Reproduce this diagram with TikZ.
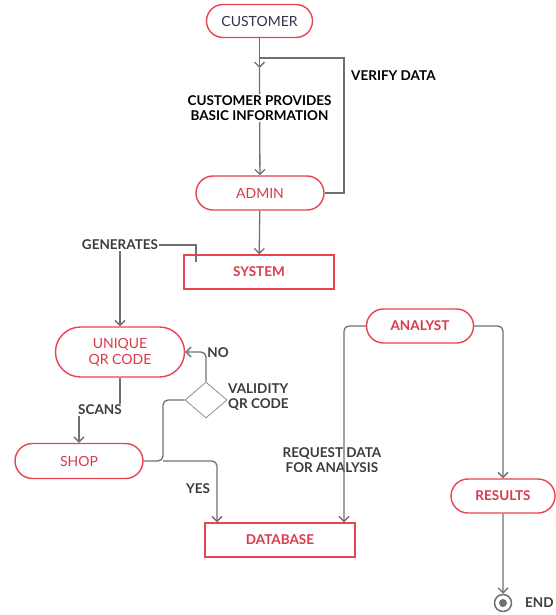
\documentclass[tikz,border=0pt]{standalone}
\usepackage{fontspec}
\setmainfont{Lato}
\usetikzlibrary{shapes.misc,shapes.geometric,arrows.meta,calc}
\definecolor{rd}{HTML}{E8434F}
\definecolor{rdt}{HTML}{D93A4C}
\definecolor{ln}{HTML}{707070}
\definecolor{navy}{HTML}{33334F}
\definecolor{lbl}{HTML}{3C3C3C}
\begin{document}
\begin{tikzpicture}[x=1pt,y=-1pt,
  pill/.style={rounded rectangle, draw=rd, line width=1.4pt, text=rdt, inner sep=0pt, fill=white, font=\fontsize{14}{16}\selectfont},
  boxnode/.style={rectangle, draw=rd, line width=1.4pt, text=rdt, inner sep=0pt, fill=white, font=\bfseries\fontsize{13.5}{16}\selectfont},
  plain/.style={draw=ln, line width=1.3pt},
  conn/.style={plain, -{Straight Barb[length=5pt,width=10pt]}},
  lab/.style={font=\bfseries\fontsize{13.5}{15.5}\selectfont, text=black, inner sep=1pt},
  glab/.style={font=\bfseries\fontsize{13.5}{15.5}\selectfont, text=lbl, inner sep=1pt}
]
\useasboundingbox (0,0) rectangle (555,615);
% nodes
\node[pill, minimum width=106pt, minimum height=33pt, text=navy] (cust) at (259.5,21) {CUSTOMER};
\node[pill, minimum width=128pt, minimum height=34pt] (admin) at (260,193) {ADMIN};
\node[boxnode, minimum width=150pt, minimum height=34pt] (sys) at (259,272) {SYSTEM};
\node[pill, minimum width=129pt, minimum height=50pt, align=center] (qr) at (120,352) {UNIQUE\\QR CODE};
\node[diamond, draw=ln!80, line width=0.8pt, minimum width=42pt, minimum height=36pt, inner sep=0pt] (dia) at (206,400) {};
\node[pill, minimum width=128pt, minimum height=35pt] (shop) at (79,461) {SHOP};
\node[pill, minimum width=107pt, minimum height=34pt, font=\bfseries\fontsize{13.5}{16}\selectfont] (anal) at (420,326) {ANALYST};
\node[pill, minimum width=104pt, minimum height=34pt, font=\bfseries\fontsize{13.5}{16}\selectfont] (res) at (503,496) {RESULTS};
\node[boxnode, minimum width=150pt, minimum height=34pt] (db) at (280,540) {DATABASE};
\node[circle, draw=ln, line width=1.5pt, minimum size=17pt, inner sep=0pt] (end) at (503,603) {};
\node[circle, fill=ln, minimum size=8pt, inner sep=0pt] (endin) at (end) {};
% labels
\node[glab, anchor=west] (endl) at (524,603) {END};
\node[lab, anchor=west] (vd) at (350,76) {VERIFY DATA};
\node[glab] (gen) at (120,245) {GENERATES};
\node[glab] (scans) at (100,410) {SCANS};
\node[glab] (no) at (218,353) {NO};
\node[glab, anchor=west, align=left] (val) at (227,397) {VALIDITY\\QR CODE};
\node[glab] (yes) at (198,489) {YES};
\node[glab, align=center] (req) at (332,460) {REQUEST DATA\\FOR ANALYSIS};
% connectors
\coordinate (a1) at (259.5,68);
\coordinate (v1) at (344,58);
\coordinate (v2) at (259.5,58);
\draw[conn] (cust) -- (a1);
\draw[conn] (a1) -- (admin);
\draw[plain] (admin.east) -| (v1) -- (v2);
\node[lab, fill=white, align=center] (cpb) at (259.5,108) {CUSTOMER PROVIDES\\BASIC INFORMATION};
\draw[conn] (admin) -- (sys);
\coordinate (g1) at (196,262);
\draw[plain] (gen.east) -| (g1);
\draw[conn] (gen.south) -- (qr.north);
\draw[conn, rounded corners=5pt] (dia.north) |- (qr.east);
\draw[plain] (qr.south) -- (qr.south |- scans.north);
\draw[conn] (scans.south -| shop.north) -- (shop.north);
\coordinate (s1) at (163,461);
\draw[plain, rounded corners=5pt] (shop.east) -- (s1) |- (dia.west);
\draw[conn, rounded corners=5pt] (s1) -| ([xshift=-63pt]db.north);
\draw[conn, rounded corners=5pt] (anal.west) -| ([xshift=64pt]db.north);
\draw[conn, rounded corners=5pt] (anal.east) -| (res.north);
\draw[conn] (res) -- (end);
\end{tikzpicture}
\end{document}
